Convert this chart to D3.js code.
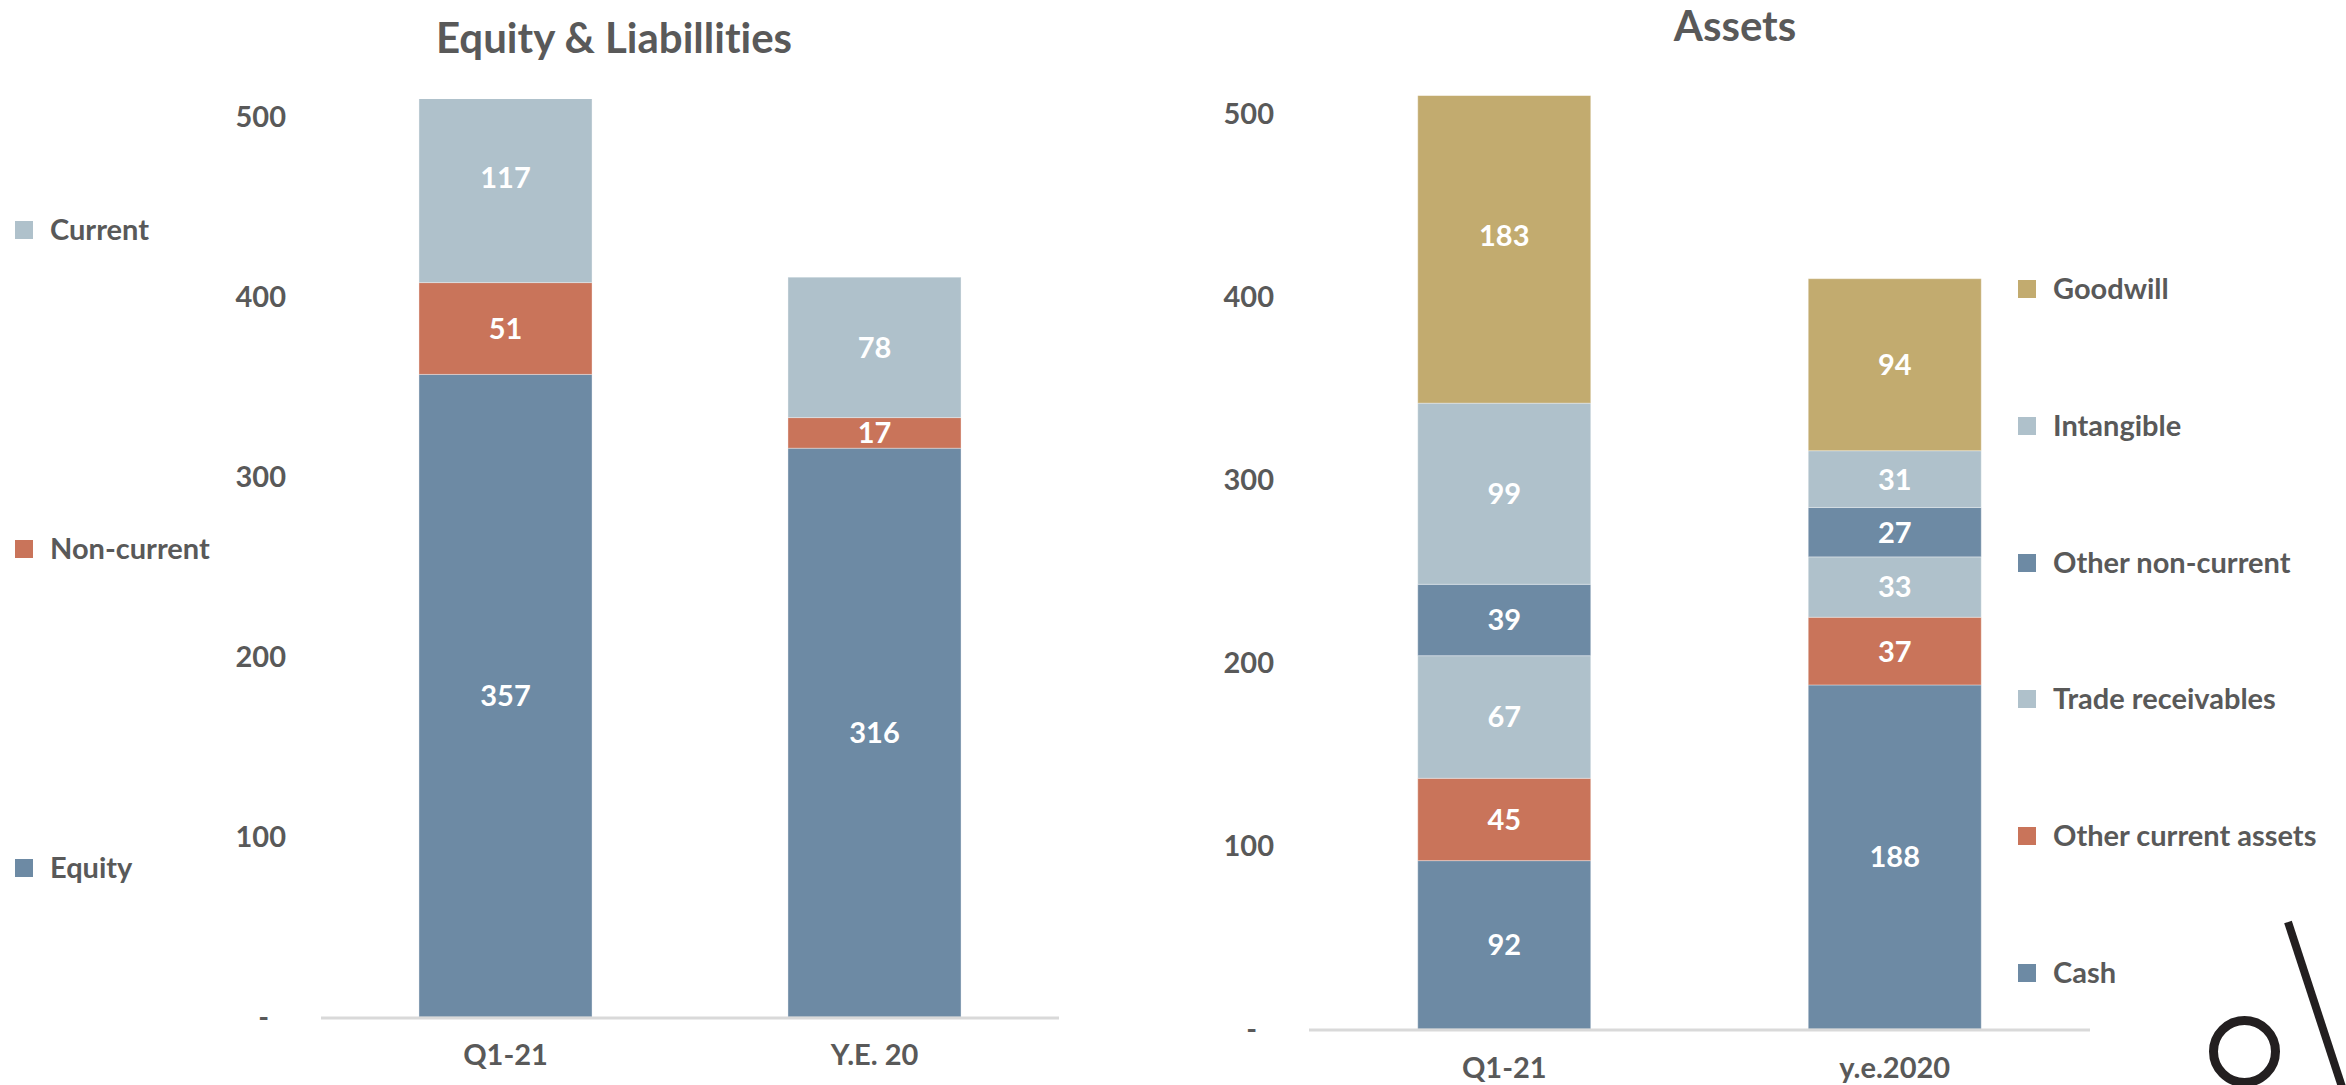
<!DOCTYPE html>
<html>
<head>
<meta charset="utf-8">
<script src="https://cdn.jsdelivr.net/npm/d3@7"></script>
<style>
  html, body { margin: 0; padding: 0; background: #fff; }
  svg text { font-family: Lato, "Open Sans", sans-serif; font-weight: 700; font-variant-ligatures: none; font-feature-settings: "liga" 0; }
</style>
</head>
<body>
<div id="chart"></div>
<script>
// --- data ---
const liabCategories = ["Q1-21", "Y.E. 20"];
const liabSeries = ["Equity", "Non-current", "Current"];
const liabEquity = [357, 316];
const liabNonCurrent = [51, 17];
const liabCurrent = [117, 78];

const assetCategories = ["Q1-21", "y.e.2020"];
const assetSeries = ["Cash", "Other current assets", "Trade receivables", "Other non-current", "Intangible", "Goodwill"];
const assetCash = [92, 188];
const assetOtherCurrent = [45, 37];
const assetTrade = [67, 33];
const assetOtherNonCurrent = [39, 27];
const assetIntangible = [99, 31];
const assetGoodwill = [183, 94];

const yTicks = [0, 100, 200, 300, 400, 500];
const yMax = 510; // axis max, bars above this are cut off

const colors = {
  blue: "#6d8aa4",
  light: "#afc1cb",
  red: "#c9745a",
  gold: "#c2ab6f"
};
const textColor = "#595959";

const W = 2346, H = 1085;
const svg = d3.select("#chart").append("svg")
  .attr("width", W)
  .attr("height", H);

function drawChart(cfg) {
  let x = d3.scaleBand()
    .domain(cfg.categories)
    .range([cfg.x0, cfg.x1])
    .paddingInner(cfg.pad)
    .paddingOuter(cfg.pad / 2);
  let y = d3.scaleLinear()
    .domain([0, yMax])
    .range([cfg.y0, cfg.yTop]);

  let rows = cfg.categories.map((c, i) => {
    let r = { cat: c };
    cfg.keys.forEach((k, j) => r[k] = cfg.values[j][i]);
    return r;
  });
  let stacked = d3.stack().keys(cfg.keys)(rows);

  let g = svg.append("g");

  let clipId = "clip-" + cfg.id;
  svg.append("clipPath").attr("id", clipId)
    .append("rect")
    .attr("x", cfg.x0).attr("y", y(yMax))
    .attr("width", cfg.x1 - cfg.x0).attr("height", y(0) - y(yMax));

  let layers = g.append("g").attr("clip-path", "url(#" + clipId + ")")
    .selectAll("g")
    .data(stacked)
    .enter().append("g")
    .attr("fill", (d, i) => cfg.colors[i]);

  layers.selectAll("rect")
    .data(d => d)
    .enter().append("rect")
    .attr("x", d => x(d.data.cat))
    .attr("width", x.bandwidth())
    .attr("y", d => y(d[1]))
    .attr("height", d => y(d[0]) - y(d[1]))
    .attr("stroke", "#ffffff")
    .attr("stroke-opacity", 0.35)
    .attr("stroke-width", 1);

  // value labels (centred in the full segment)
  g.append("g").selectAll("g")
    .data(stacked)
    .enter().append("g")
    .selectAll("text")
    .data(d => d)
    .enter().append("text")
    .attr("x", d => x(d.data.cat) + x.bandwidth() / 2)
    .attr("y", d => y((d[0] + d[1]) / 2))
    .attr("dy", "0.36em")
    .attr("text-anchor", "middle")
    .attr("fill", "#fff")
    .style("font-size", "29px")
    .text(d => d[1] - d[0]);

  // baseline
  g.append("line")
    .attr("x1", cfg.x0).attr("x2", cfg.x1)
    .attr("y1", y(0) + 1).attr("y2", y(0) + 1)
    .attr("stroke", "#d9d9d9")
    .attr("stroke-width", 3);

  // y axis
  let ax = g.append("g")
    .attr("transform", "translate(" + cfg.axisX + ",0)")
    .call(d3.axisLeft(y).tickValues(yTicks).tickSize(0).tickPadding(0)
      .tickFormat(d => d === 0 ? "-" : d));
  ax.select(".domain").remove();
  ax.selectAll("text")
    .attr("fill", textColor)
    .style("font-size", "29px")
    .attr("dx", d => d === 0 ? -17 : 0);

  // category labels
  g.selectAll(".cat")
    .data(cfg.categories)
    .enter().append("text")
    .attr("class", "cat")
    .attr("x", d => x(d) + x.bandwidth() / 2)
    .attr("y", cfg.catY)
    .attr("dy", "0.36em")
    .attr("text-anchor", "middle")
    .attr("fill", textColor)
    .style("font-size", "29px")
    .text(d => d);

  // title
  g.append("text")
    .attr("x", cfg.titleX)
    .attr("y", cfg.titleY)
    .attr("text-anchor", "middle")
    .attr("fill", textColor)
    .style("font-size", "42px")
    .text(cfg.title);

  // legend
  let lg = g.append("g").selectAll("g")
    .data(cfg.keys)
    .enter().append("g")
    .attr("transform", (d, i) => "translate(" + cfg.legX + "," + cfg.legY[i] + ")");
  lg.append("rect")
    .attr("x", 0).attr("y", -9)
    .attr("width", 18).attr("height", 18)
    .attr("fill", (d, i) => cfg.colors[i]);
  lg.append("text")
    .attr("x", 35)
    .attr("dy", "0.36em")
    .attr("fill", textColor)
    .style("font-size", "29px")
    .text(d => d);
}

drawChart({
  id: "liab",
  title: "Equity & Liabillities",
  titleX: 614, titleY: 53,
  categories: liabCategories,
  keys: liabSeries,
  values: [liabEquity, liabNonCurrent, liabCurrent],
  colors: [colors.blue, colors.red, colors.light],
  x0: 321, x1: 1059, pad: 0.531,
  y0: 1017, yTop: 1017 - yMax * 1.8,
  axisX: 286,
  catY: 1055,
  legX: 15,
  legY: [868, 549, 230]
});

drawChart({
  id: "assets",
  title: "Assets",
  titleX: 1735, titleY: 41,
  categories: assetCategories,
  keys: assetSeries,
  values: [assetCash, assetOtherCurrent, assetTrade, assetOtherNonCurrent, assetIntangible, assetGoodwill],
  colors: [colors.blue, colors.red, colors.light, colors.blue, colors.light, colors.gold],
  x0: 1309, x1: 2090, pad: 0.557,
  y0: 1029, yTop: 1029 - yMax * 1.83,
  axisX: 1274,
  catY: 1068,
  legX: 2018,
  legY: [973, 836, 699, 563, 426, 289]
});

// logo fragment, bottom right corner
svg.append("circle")
  .attr("cx", 2244.5).attr("cy", 1051.5).attr("r", 31)
  .attr("fill", "none")
  .attr("stroke", "#231f20")
  .attr("stroke-width", 9);
svg.append("line")
  .attr("x1", 2288).attr("y1", 922)
  .attr("x2", 2343).attr("y2", 1090)
  .attr("stroke", "#231f20")
  .attr("stroke-width", 8);
</script>
</body>
</html>
